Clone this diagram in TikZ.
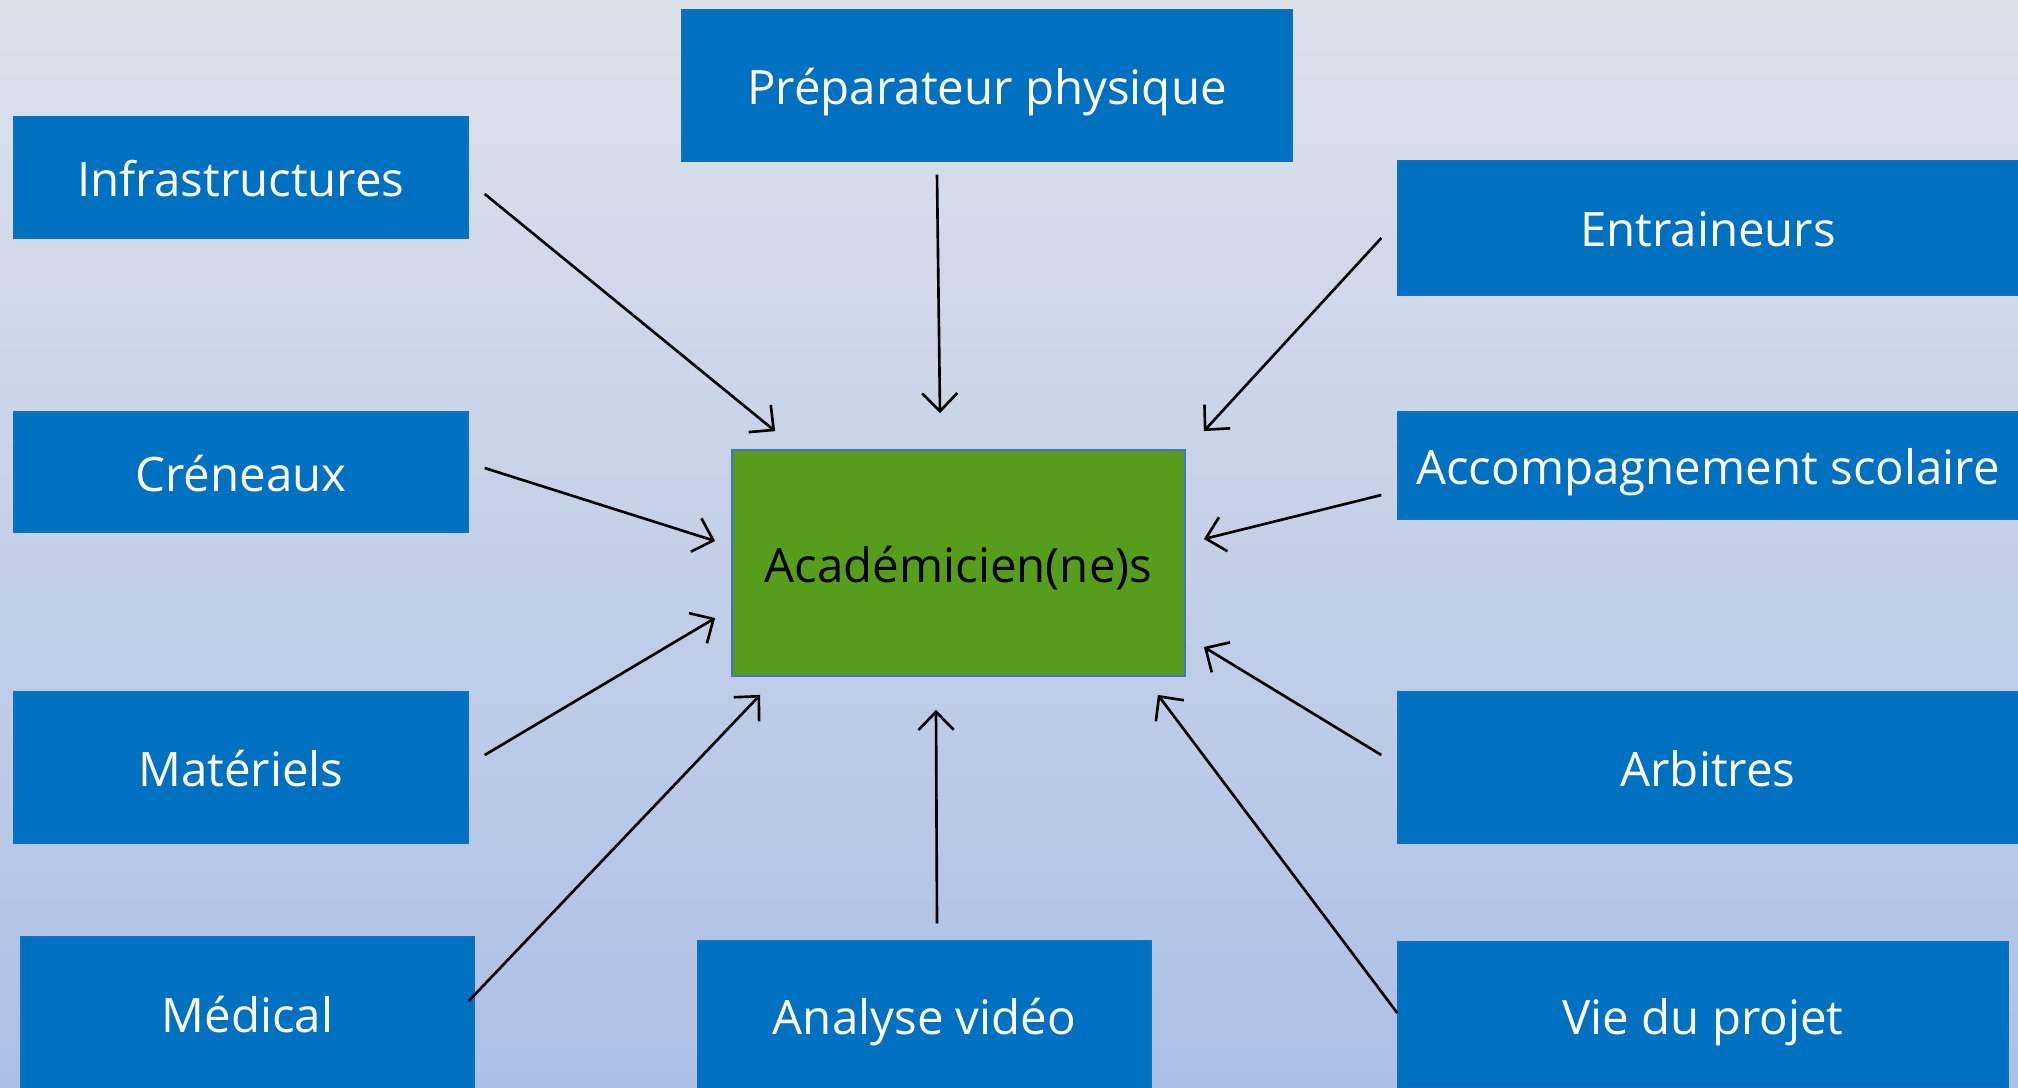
\documentclass[tikz,border=0pt]{standalone}
\usepackage{fontspec}
\setmainfont{Open Sans}
\usepackage{tikz}
\usetikzlibrary{shapes, arrows.meta, positioning}
\usepackage{xcolor}
\definecolor{boxblue}{RGB}{0,112,192}
\definecolor{boxgreen}{RGB}{87,157,28}
\definecolor{edgeblue}{RGB}{68,114,196}
\definecolor{bgtop}{RGB}{221,225,234}
\definecolor{bgmid}{RGB}{197,208,230}
\definecolor{bgbot}{RGB}{172,192,230}

\begin{document}
\begin{tikzpicture}[>={Straight Barb[length=1.8mm, width=3.5mm]}, line width=0.75pt,
    pole/.style={fill=boxblue, draw=boxblue!80!edgeblue, line width=0.4pt, text=white, inner xsep=2pt, text height=13pt, text depth=2.2pt, font=\fontsize{13.5}{16}\selectfont},
    centre/.style={fill=boxgreen, draw=edgeblue, line width=0.5pt, text=black, text height=13pt, text depth=2.2pt, font=\fontsize{13.5}{16}\selectfont, minimum width=4.53cm, minimum height=2.26cm}]
    % fond dégradé
    \useasboundingbox (0,0) rectangle (20.18,-10.87);
    \clip (0,0) rectangle (20.18,-10.87);
    \shade[top color=bgtop, middle color=bgmid, bottom color=bgbot] (0,0) rectangle (20.18,-10.87);

    % le centre
    \node[centre] (acad) at (9.585,-5.63) {Académicien(ne)s};

    % les pôles autour
    \node[pole, minimum width=6.10cm, minimum height=1.51cm] (prep) at (9.87,-0.855) {Préparateur physique};
    \node[pole, minimum width=4.54cm, minimum height=1.21cm] (infra) at (2.41,-1.775) {Infrastructures};
    \node[pole, minimum width=6.20cm, minimum height=1.34cm] (entr) at (17.08,-2.28) {Entraineurs};
    \node[pole, minimum width=4.54cm, minimum height=1.20cm] (cren) at (2.41,-4.72) {Créneaux};
    \node[pole, minimum width=6.20cm, minimum height=1.07cm] (acc) at (17.08,-4.655) {Accompagnement scolaire};
    \node[pole, minimum width=4.54cm, minimum height=1.51cm] (mat) at (2.41,-7.675) {Matériels};
    \node[pole, minimum width=6.20cm, minimum height=1.51cm] (arb) at (17.08,-7.675) {Arbitres};
    \node[pole, minimum width=4.53cm, minimum height=1.52cm] (med) at (2.475,-10.13) {Médical};
    \node[pole, minimum width=4.53cm, minimum height=1.48cm] (ana) at (9.245,-10.15) {Analyse vidéo};
    \node[pole, minimum width=6.10cm, minimum height=1.46cm] (vie) at (17.03,-10.15) {Vie du projet};

    % flèches vers le centre
    \draw[->] ([shift={(0.16,-0.165)}]infra.east) -- ([shift={(0.44,0.18)}]acad.north west);
    \draw[->] ([shift={(-0.50,-0.13)}]prep.south) -- ([shift={(-0.185,0.36)}]acad.north);
    \draw[->] ([shift={(-0.16,-0.10)}]entr.west) -- ([shift={(0.18,0.18)}]acad.north east);
    \draw[->] ([shift={(0.16,0.04)}]cren.east) -- ([shift={(-0.16,0.22)}]acad.west);
    \draw[->] ([shift={(-0.16,-0.295)}]acc.west) -- ([shift={(0.18,0.24)}]acad.east);
    \draw[->] ([shift={(0.16,0.125)}]mat.east) -- ([shift={(-0.16,-0.55)}]acad.west);
    \draw[->] ([shift={(-0.16,0.125)}]arb.west) -- ([shift={(0.18,-0.84)}]acad.east);
    \draw[->] ([shift={(-0.06,0.12)}]med.east) -- ([shift={(0.29,-0.18)}]acad.south west);
    \draw[->] ([shift={(0.125,0.17)}]ana.north) -- ([shift={(-0.225,-0.33)}]acad.south);
    \draw[->] ([shift={(0,0.02)}]vie.west) -- ([shift={(-0.28,-0.18)}]acad.south east);
\end{tikzpicture}
\end{document}
